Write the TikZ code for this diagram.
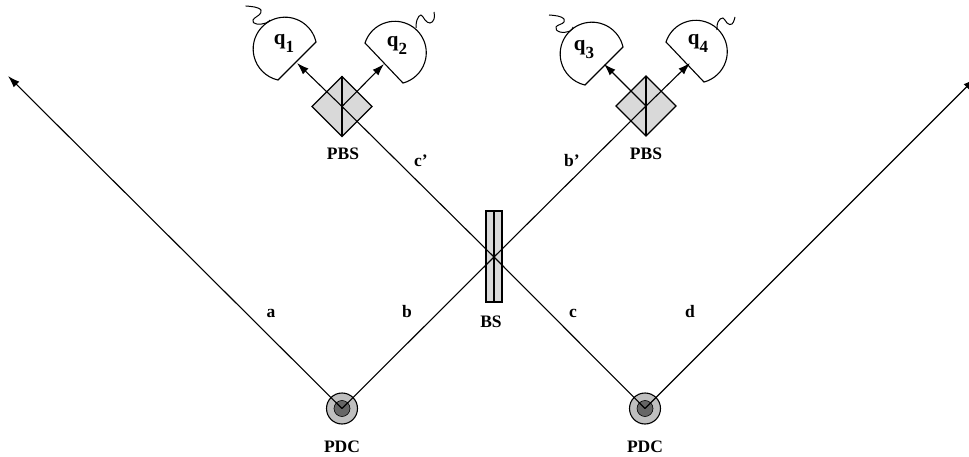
\documentclass[tikz,border=0pt]{standalone}
\usepackage{fontspec}
\setmainfont{Liberation Serif}
\usetikzlibrary{arrows.meta}
\tikzset{
  lab/.style={inner sep=0pt,anchor=base,font=\fontsize{17.5}{18}\selectfont\bfseries},
  qlab/.style={inner sep=0pt,anchor=base,font=\fontsize{21}{22}\selectfont\bfseries},
  beam/.style={line width=1.1pt},
  arr/.style={beam,-{Latex[length=12pt,width=8pt]}},
  det/.style={draw,line width=1.1pt,fill=white},
  wig/.style={line width=1pt},
  prism/.style={draw,line width=1.1pt,fill=black!15},
}
\newcommand{\subd}[1]{\raisebox{-8pt}{\fontsize{17}{18}\selectfont #1}}
\begin{document}
\begin{tikzpicture}[x=1pt,y=-1pt]
\useasboundingbox (0,0) rectangle (969,457);
\coordinate (L) at (342,408.5);
\coordinate (R) at (645,408.5);
\coordinate (X) at (494,257);
\coordinate (PL) at (342,106.5);
\coordinate (PR) at (646,106);
\coordinate (aend) at (8,76);
\coordinate (dend) at (975,78.5);
\coordinate (t1) at (297,63);
\coordinate (t2) at (384,64);
\coordinate (t3) at (604,64);
\coordinate (t4) at (690,63);
\node[circle,draw,line width=1.1pt,fill=black!25,minimum size=31pt,inner sep=0pt] (srcL) at (L) {};
\node[circle,draw,line width=0.6pt,fill=black!60,minimum size=16pt,inner sep=0pt] (srcLi) at (L) {};
\node[circle,draw,line width=1.1pt,fill=black!25,minimum size=31pt,inner sep=0pt] (srcR) at (R) {};
\node[circle,draw,line width=0.6pt,fill=black!60,minimum size=16pt,inner sep=0pt] (srcRi) at (R) {};
\filldraw[prism] (PL) +(-30,0) -- +(0,-30) -- +(30,0) -- +(0,30) -- cycle;
\draw[beam] (PL) +(0,-30) -- +(0,30);
\filldraw[prism] (PR) +(-30,0) -- +(0,-30) -- +(30,0) -- +(0,30) -- cycle;
\draw[beam] (PR) +(0,-30) -- +(0,30);
\filldraw[prism] (486,211) rectangle (502,302);
\draw[beam] (494,211) -- (494,302);
\draw[det] (316,42) arc[start angle=-12.7,end angle=-257.3,radius=31.8] -- cycle;
\draw[det] (365,43) arc[start angle=-162,end angle=75,radius=31.4] -- cycle;
\draw[det] (623,47) arc[start angle=-12.7,end angle=-257.3,radius=31.8] -- cycle;
\draw[det] (666,42) arc[start angle=-162,end angle=75,radius=31.4] -- cycle;
\draw[arr] (L) -- (aend);
\draw[arr] (R) -- (dend);
\draw[beam] (L) -- (X) -- (PR);
\draw[beam] (R) -- (X) -- (PL);
\draw[arr] (PL) -- (t1);
\draw[arr] (PL) -- (t2);
\draw[arr] (PR) -- (t3);
\draw[arr] (PR) -- (t4);
\draw[wig] plot[smooth,tension=0.8] coordinates {(245.7,6) (258,8) (260.7,13) (253,20) (256.7,24) (266,23) (270,20)};
\draw[wig] plot[smooth,tension=0.8] coordinates {(416,28) (417,20) (421,15) (425,20) (430,23) (434,19) (434,12)};
\draw[wig] plot[smooth,tension=0.8] coordinates {(549,15) (561,17) (564,22) (556,27) (560,32) (570,31) (573,27)};
\draw[wig] plot[smooth,tension=0.8] coordinates {(717,30) (718,22) (723,18) (727,23) (732,24) (735,17)};
\node[lab] (la) at (271,317) {a};
\node[lab] (lb) at (407,317) {b};
\node[lab] (lc) at (573,317) {c};
\node[lab] (ld) at (690,317) {d};
\node[lab] (lcp) at (421,167) {c’};
\node[lab] (lbp) at (572,167) {b’};
\node[lab] (lbs) at (491,327) {BS};
\node[lab] (lpbs1) at (343,160) {PBS};
\node[lab] (lpbs2) at (646,160) {PBS};
\node[lab] (lpdc1) at (342,452) {PDC};
\node[lab] (lpdc2) at (645,452) {PDC};
\node[qlab] (q1) at (284,45) {q\subd{1}};
\node[qlab] (q2) at (397,47) {q\subd{2}};
\node[qlab] (q3) at (584,51) {q\subd{3}};
\node[qlab] (q4) at (698,45) {q\subd{4}};
\end{tikzpicture}
\end{document}
